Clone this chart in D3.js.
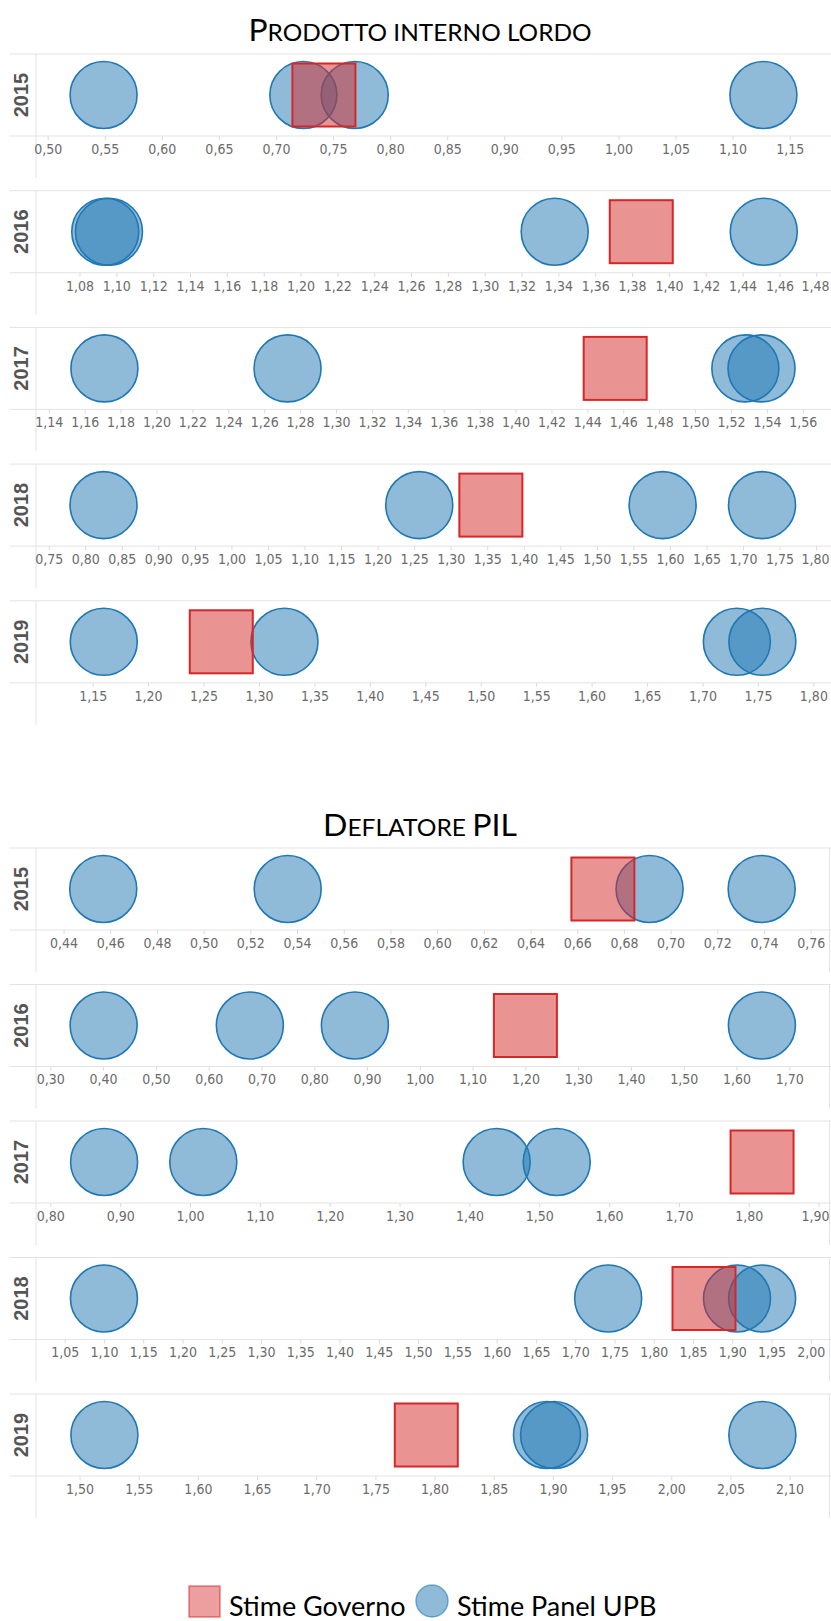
<!DOCTYPE html>
<html>
<head>
<meta charset="utf-8">
<script src="https://cdn.jsdelivr.net/npm/d3@7"></script>
<style>
  body { margin: 0; background: #fff; }
  svg { display: block; }
</style>
</head>
<body>
<div id="chart"></div>
<script>
// Years shown on every row
const years = ["2015", "2016", "2017", "2018", "2019"];

// Prodotto interno lordo: government estimate, panel estimates, visible axis range, ticks [first, last, step]
const pilGoverno = [0.742, 1.385, 1.4555, 1.355, 1.266];
const pilPanel = [
  [0.549, 0.724, 0.769, 1.127],
  [1.094, 1.096, 1.338, 1.4515],
  [1.171, 1.273, 1.528, 1.537],
  [0.825, 1.257, 1.59, 1.726],
  [1.16, 1.323, 1.731, 1.754],
];
const pilDomain = [[0.4898, 1.1862], [1.0564, 1.488], [1.1329, 1.5757], [0.7326, 1.8204], [1.0989, 1.8159]];
const pilTicks = [[0.5, 1.15, 0.05], [1.08, 1.48, 0.02], [1.14, 1.56, 0.02], [0.75, 1.8, 0.05], [1.15, 1.8, 0.05]];

// Deflatore PIL
const defGoverno = [0.671, 1.2, 1.819, 1.864, 1.793];
const defPanel = [
  [0.457, 0.536, 0.691, 0.739],
  [0.401, 0.678, 0.877, 1.648],
  [0.877, 1.019, 1.439, 1.525],
  [1.1, 1.742, 1.906, 1.938],
  [1.521, 1.895, 1.901, 2.077],
];
const defDomain = [[0.4282, 0.7687], [0.2729, 1.7789], [0.7795, 1.9177], [1.0135, 2.0257], [1.4632, 2.135]];
const defTicks = [[0.44, 0.76, 0.02], [0.3, 1.7, 0.1], [0.8, 1.9, 0.1], [1.05, 2.0, 0.05], [1.5, 2.1, 0.05]];

const legendLabels = ["Stime Governo", "Stime Panel UPB"];

const W = 831, H = 1621;
const plotLeft = 36, plotRight = 831, frameLeft = 9.5;
const plotH = 82, rowStep = 136.7;
const radius = 33.5, sq = 63;
const blue = "#1f77b4", red = "#d62728";

const fmt = d3.formatLocale({ decimal: ",", thousands: ".", grouping: [3], currency: ["", ""] }).format(".2f");

const svg = d3.select("#chart").append("svg").attr("width", W).attr("height", H);

// Small-caps title: real capitals big, lower-case letters as smaller capitals
function title(y, label, width) {
  const t = svg.append("text")
    .attr("x", 420).attr("y", y)
    .attr("text-anchor", "middle")
    .attr("textLength", width)
    .attr("lengthAdjust", "spacingAndGlyphs")
    .style("font-family", "Lato, 'Open Sans', sans-serif")
    .attr("fill", "#000");
  // split into runs of capitals / non-capitals
  const runs = label.match(/[A-Z]+|[^A-Z]+/g);
  runs.forEach((r) => {
    const big = /[A-Z]/.test(r);
    t.append("tspan").style("font-size", big ? "30px" : "23px").text(r.toUpperCase());
  });
}

// One row: frame, axis, circles, square
function row(top, year, gov, panel, domain, tk) {
  const g = svg.append("g");
  const x = d3.scaleLinear().domain(domain).range([plotLeft, plotRight]);
  const axisY = top + plotH;
  const cy = top + plotH / 2;

  // frame lines
  g.append("line").attr("x1", frameLeft).attr("x2", W).attr("y1", top).attr("y2", top)
    .attr("stroke", "#e3e3e3");
  g.append("line").attr("x1", plotLeft).attr("x2", plotLeft).attr("y1", top).attr("y2", top + 124)
    .attr("stroke", "#e3e3e3");

  // axis
  const n = Math.round((tk[1] - tk[0]) / tk[2]);
  const tickValues = d3.range(n + 1).map((i) => +(tk[0] + i * tk[2]).toFixed(2));
  const ax = g.append("g")
    .attr("transform", `translate(0,${axisY})`)
    .call(d3.axisBottom(x).tickValues(tickValues).tickFormat(fmt).tickSize(4).tickPadding(4).tickSizeOuter(0));
  ax.select(".domain").remove();
  ax.selectAll(".tick line").attr("stroke", "#d9d9d9");
  ax.selectAll(".tick text")
    .attr("fill", "#6b6b6b")
    .style("font-family", "'Liberation Sans Narrow', 'DejaVu Sans Condensed', sans-serif")
    .style("font-size", "14px");
  // keep a label that would run off the right edge inside the page
  ax.selectAll(".tick text").each(function (d) {
    const w = this.getComputedTextLength();
    if (x(d) + w / 2 > W - 2) d3.select(this).attr("text-anchor", "end").attr("x", W - 2 - x(d));
  });
  g.append("line").attr("x1", frameLeft).attr("x2", W).attr("y1", axisY).attr("y2", axisY)
    .attr("stroke", "#e3e3e3");

  // year label
  g.append("text")
    .attr("transform", `translate(${plotLeft - 8},${cy}) rotate(-90)`)
    .attr("text-anchor", "middle")
    .style("font-family", "'Liberation Sans', Arial, sans-serif")
    .style("font-weight", "bold")
    .style("font-size", "20px")
    .attr("fill", "#555")
    .text(year);

  // panel estimates
  g.selectAll(".circle")
    .data(panel)
    .enter()
    .append("circle")
    .attr("class", "circle")
    .attr("cx", (d) => x(d))
    .attr("cy", cy)
    .attr("r", radius)
    .attr("fill", blue)
    .attr("fill-opacity", 0.5)
    .attr("stroke", blue)
    .attr("stroke-width", 1.6);

  // government estimate
  g.append("rect")
    .attr("x", x(gov) - sq / 2)
    .attr("y", cy - sq / 2)
    .attr("width", sq)
    .attr("height", sq)
    .attr("fill", red)
    .attr("fill-opacity", 0.5)
    .attr("stroke", red)
    .attr("stroke-width", 2);
}

title(41, "Prodotto interno lordo", 343);
years.forEach((y, i) => row(54 + i * rowStep, y, pilGoverno[i], pilPanel[i], pilDomain[i], pilTicks[i]));

title(836, "Deflatore PIL", 194);
years.forEach((y, i) => {
  const top = 848 + i * 136.5;
  row(top, y, defGoverno[i], defPanel[i], defDomain[i], defTicks[i]);
  svg.append("line").attr("x1", 829.5).attr("x2", 829.5).attr("y1", top).attr("y2", top + 124)
    .attr("stroke", "#e3e3e3");
});

// legend
const lg = svg.append("g").style("font-family", "Lato, 'Open Sans', sans-serif").style("font-size", "27px");
lg.append("rect").attr("x", 189).attr("y", 1586).attr("width", 31).attr("height", 31)
  .attr("fill", red).attr("fill-opacity", 0.45).attr("stroke", red).attr("stroke-opacity", 0.55).attr("stroke-width", 1.5);
lg.append("text").attr("x", 229).attr("y", 1616).attr("fill", "#000").text(legendLabels[0]);
lg.append("circle").attr("cx", 432).attr("cy", 1601).attr("r", 16)
  .attr("fill", blue).attr("fill-opacity", 0.5).attr("stroke", blue).attr("stroke-opacity", 0.55).attr("stroke-width", 1.5);
lg.append("text").attr("x", 457).attr("y", 1616).attr("fill", "#000").text(legendLabels[1]);
</script>
</body>
</html>
